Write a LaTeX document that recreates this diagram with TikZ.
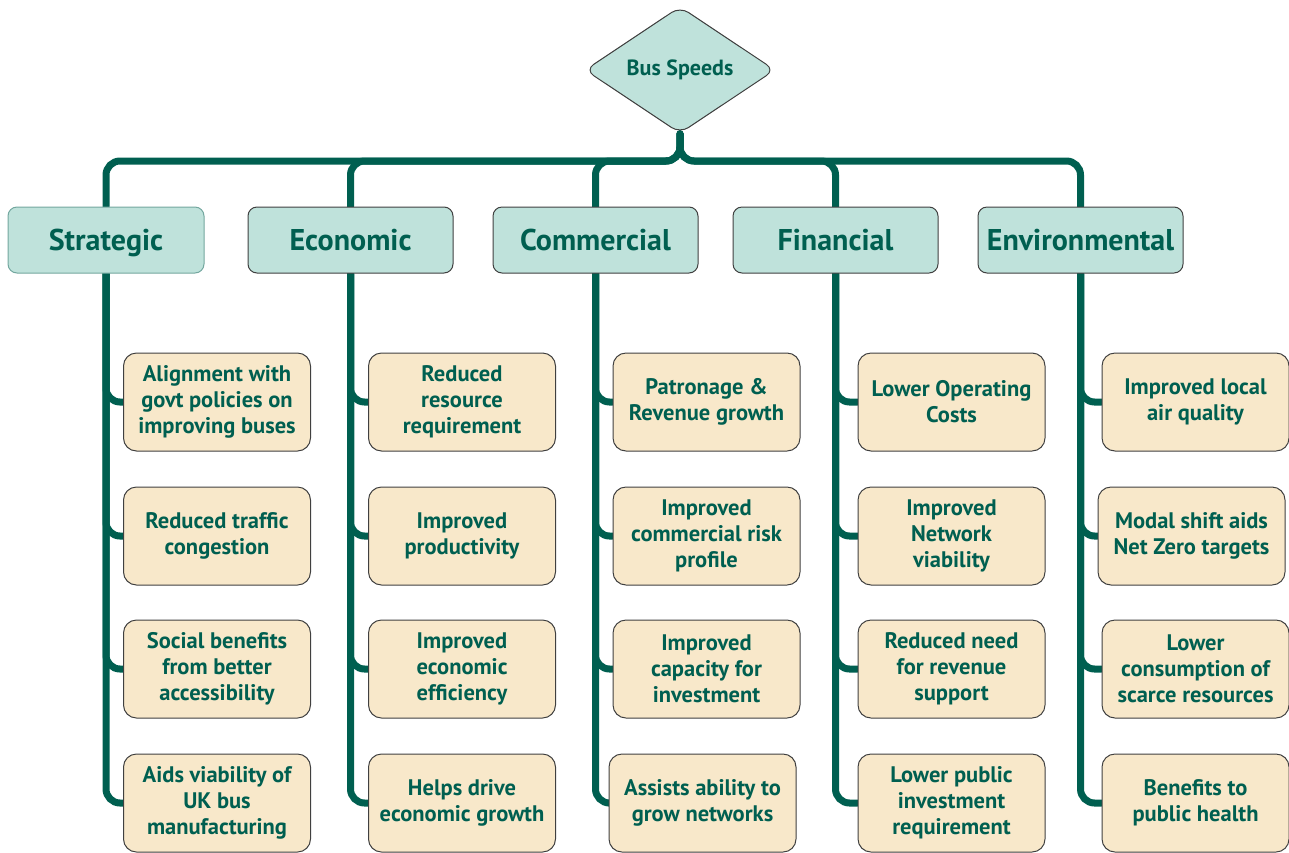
\documentclass[tikz,border=0pt]{standalone}
\usepackage{fontspec}
\setmainfont{PT Sans}
\usetikzlibrary{shapes.geometric,backgrounds}
\definecolor{busgreen}{HTML}{005F50}
\definecolor{catfill}{HTML}{BFE2DB}
\definecolor{leaffill}{HTML}{F8E8CA}
\tikzset{
  cat/.style={draw=black!75, fill=catfill, line width=1pt, rounded corners=9pt,
    minimum width=205pt, minimum height=66pt, inner sep=0pt, text=busgreen,
    text height=24pt, text depth=3pt,
    font=\fontsize{30}{34}\selectfont\bfseries},
  leaf/.style={draw=black!75, fill=leaffill, line width=1pt, rounded corners=13pt,
    minimum width=187pt, minimum height=98pt, inner sep=0pt, align=center, text=busgreen,
    font=\fontsize{22.5}{26}\selectfont\bfseries},
  link/.style={draw=busgreen, line width=7pt, rounded corners=14pt, line cap=round}
}
\begin{document}
\begin{tikzpicture}[x=1pt,y=-1pt]
  \useasboundingbox (0,0) rectangle (1289,852);
  % top
  \node[diamond, draw=black!75, fill=catfill, line width=1pt, rounded corners=10pt,
    minimum width=190pt, minimum height=124pt, inner sep=0pt, text=busgreen,
    font=\fontsize{22}{24}\selectfont\bfseries] (bus) at (680,70) {Bus Speeds};
  \coordinate (hub) at (680,161);
  % categories
  \node[cat, draw=busgreen!55, minimum width=196pt] (strat) at (106,240) {Strategic};
  \node[cat] (econ) at (350.5,240) {Economic};
  \node[cat] (comm) at (595.5,240) {Commercial};
  \node[cat] (fin) at (835.5,240) {Financial};
  \node[cat] (env) at (1080.5,240) {Environmental};
  % strategic
  \node[leaf] (strat1) at (217,402) {Alignment with\\govt policies on\\improving buses};
  \node[leaf] (strat2) at (217,536) {Reduced traffic\\congestion};
  \node[leaf] (strat3) at (217,669) {Social benefits\\from better\\accessibility};
  \node[leaf] (strat4) at (217,803) {Aids viability of\\UK bus\\manufacturing};
  % economic
  \node[leaf] (econ1) at (462,402) {Reduced\\resource\\requirement};
  \node[leaf] (econ2) at (462,536) {Improved\\productivity};
  \node[leaf] (econ3) at (462,669) {Improved\\economic\\efficiency};
  \node[leaf] (econ4) at (462,803) {Helps drive\\economic growth};
  % commercial
  \node[leaf] (comm1) at (706.5,402) {Patronage \&\\Revenue growth};
  \node[leaf] (comm2) at (706.5,536) {Improved\\commercial risk\\profile};
  \node[leaf] (comm3) at (706.5,669) {Improved\\capacity for\\investment};
  \node[leaf] (comm4) at (702.5,803) {Assists ability to\\grow networks};
  % financial
  \node[leaf] (fin1) at (951.5,402) {Lower Operating\\Costs};
  \node[leaf] (fin2) at (951.5,536) {Improved\\Network\\viability};
  \node[leaf] (fin3) at (951.5,669) {Reduced need\\for revenue\\support};
  \node[leaf] (fin4) at (951.5,803) {Lower public\\investment\\requirement};
  % environmental
  \node[leaf] (env1) at (1195.5,402) {Improved local\\air quality};
  \node[leaf] (env2) at (1191.5,536) {Modal shift aids\\Net Zero targets};
  \node[leaf] (env3) at (1195.5,669) {Lower\\consumption of\\scarce resources};
  \node[leaf] (env4) at (1195.5,803) {Benefits to\\public health};
  % connectors
  \begin{scope}[on background layer]
    \foreach \c in {strat,econ,comm,fin,env}{
      \draw[link] (bus.south) -- (hub) -| (\c.north);
      \foreach \r in {1,...,4}
        \draw[link] (\c.south) |- (\c\r.west);}
  \end{scope}
\end{tikzpicture}
\end{document}
